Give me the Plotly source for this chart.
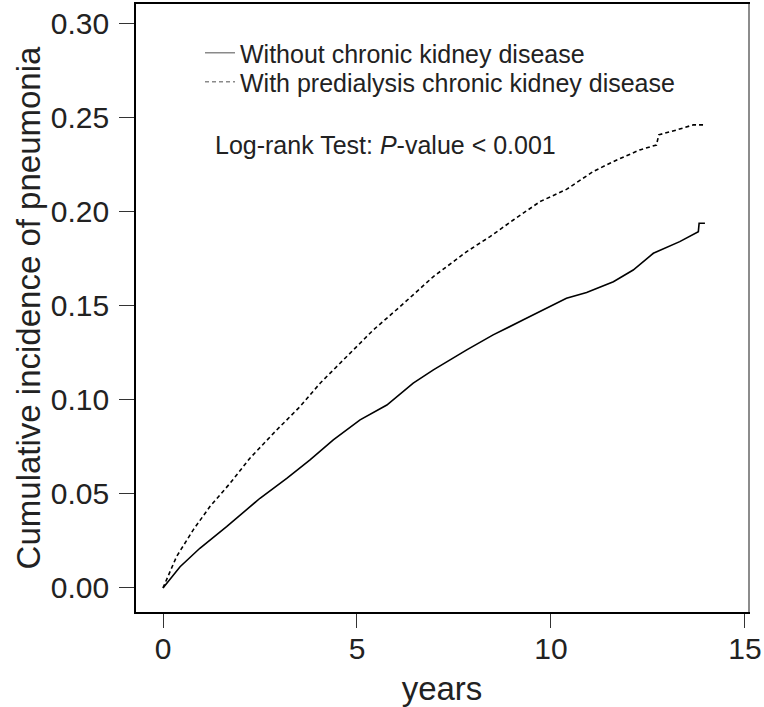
import plotly.graph_objects as go

# Without chronic kidney disease (solid)
years_without = [0, 0.44, 0.95, 1.64, 2.50, 3.19, 3.79, 4.39, 5.08, 5.77, 6.45, 6.97,
                 7.83, 8.51, 9.29, 10.40, 10.92, 11.61, 12.12, 12.64, 13.32, 13.67,
                 13.80, 13.82, 13.97]
inc_without = [0, 0.0113, 0.0211, 0.0326, 0.0477, 0.0583, 0.0681, 0.0787, 0.0894,
               0.0973, 0.1089, 0.116, 0.1266, 0.1346, 0.1426, 0.1541, 0.1571, 0.1629,
               0.1691, 0.178, 0.1842, 0.1878, 0.1895, 0.194, 0.194]

# With predialysis chronic kidney disease (dashed)
years_with = [0, 0.05, 0.35, 0.78, 1.21, 1.73, 2.24, 2.93, 3.53, 4.05, 4.65, 5.42,
              6.11, 6.97, 7.83, 8.43, 9.03, 9.72, 10.40, 11.09, 11.61, 12.29, 12.72,
              12.78, 13.24, 13.67, 13.97]
inc_with = [0, 0.0025, 0.0167, 0.0309, 0.0433, 0.0557, 0.069, 0.084, 0.0964, 0.1089,
            0.1213, 0.1372, 0.1496, 0.1656, 0.1789, 0.1869, 0.1957, 0.2055, 0.212,
            0.2215, 0.2268, 0.233, 0.2356, 0.241, 0.2436, 0.2463, 0.2463]

series_names = ["Without chronic kidney disease", "With predialysis chronic kidney disease"]
x_ticks = [0, 5, 10, 15]
y_ticks = [0.00, 0.05, 0.10, 0.15, 0.20, 0.25, 0.30]
y_tick_labels = ["0.00", "0.05", "0.10", "0.15", "0.20", "0.25", "0.30"]

FONT = "Liberation Sans, Arial, Helvetica, sans-serif"
DASH = "4px,3px"
TXT = "#222222"
Y_RANGE = [-0.0128, 0.3106]

fig = go.Figure()
fig.add_trace(go.Scatter(x=years_without, y=inc_without, mode="lines",
                         line=dict(color="black", width=1.6), showlegend=False,
                         name=series_names[0]))
fig.add_trace(go.Scatter(x=years_with, y=inc_with, mode="lines",
                         line=dict(color="black", width=1.6, dash=DASH), showlegend=False,
                         name=series_names[1]))
# legend keys (gray, as in the reference), one legend per row
fig.add_trace(go.Scatter(x=[None], y=[None], mode="lines", legend="legend",
                         line=dict(color="#8a8a8a", width=1.5), name=series_names[0]))
fig.add_trace(go.Scatter(x=[None], y=[None], mode="lines", legend="legend2",
                         line=dict(color="#8a8a8a", width=1.5, dash=DASH), name=series_names[1]))
# empty trace so the right-hand (gray) frame axis is drawn
fig.add_trace(go.Scatter(x=[None], y=[None], mode="lines", yaxis="y2",
                         showlegend=False, hoverinfo="skip"))

legend_common = dict(xanchor="left", yanchor="middle", bgcolor="rgba(0,0,0,0)",
                     font=dict(size=25, color=TXT, family=FONT), borderwidth=0)

fig.update_layout(
    width=764, height=707,
    margin=dict(l=136, r=16, t=4, b=95),
    paper_bgcolor="white", plot_bgcolor="white",
    font=dict(family=FONT, color=TXT),
    legend=dict(x=0.1046, y=0.9194, **legend_common),
    legend2=dict(x=0.1046, y=0.8717, **legend_common),
    xaxis=dict(range=[-0.696, 15.08], tickvals=x_ticks, ticktext=[str(v) for v in x_ticks],
               automargin=False, showgrid=False, zeroline=False, showline=True,
               linecolor="black", linewidth=1.6, mirror=True, ticks="outside", ticklen=14,
               tickcolor="#333333", tickwidth=1.3, ticklabelstandoff=-5,
               tickfont=dict(size=30, color=TXT),
               title=dict(text="years", font=dict(size=33, color=TXT), standoff=25)),
    yaxis=dict(range=Y_RANGE, tickvals=y_ticks, ticktext=y_tick_labels,
               automargin=False, showgrid=False, zeroline=False, showline=True,
               linecolor="black", linewidth=1.6, mirror=False, ticks="outside", ticklen=15,
               tickcolor="#333333", tickwidth=1.3, ticklabelstandoff=4,
               tickfont=dict(size=30, color=TXT),
               title=dict(text="Cumulative incidence of pneumonia",
                          font=dict(size=33, color=TXT), standoff=0)),
    yaxis2=dict(range=Y_RANGE, overlaying="y", side="right", automargin=False,
                showgrid=False, zeroline=False, showline=True, linecolor="#8c8c8c",
                linewidth=1.6, showticklabels=False, ticks=""),
    annotations=[dict(x=0.1258, y=0.768, xref="paper", yref="paper",
                      xanchor="left", yanchor="middle", showarrow=False,
                      text="Log-rank Test: <i>P</i>-value &lt; 0.001",
                      font=dict(size=25, color=TXT))],
)

fig.write_html("out.html", config={"displayModeBar": False},
               post_script="document.body.style.margin='0px';document.body.style.overflow='hidden';")
